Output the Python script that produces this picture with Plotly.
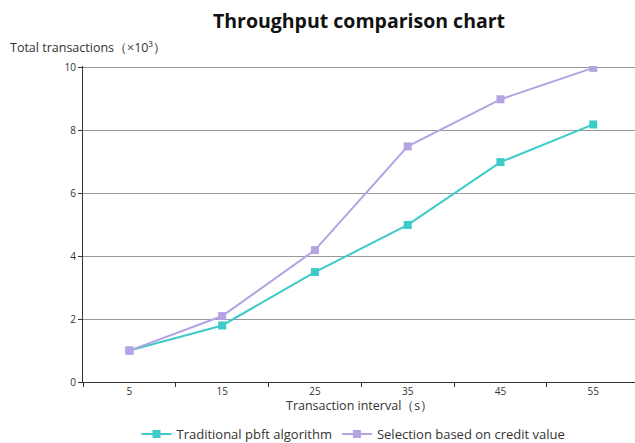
import plotly.graph_objects as go

intervals = ["5", "15", "25", "35", "45", "55"]
pbft_values = [1, 1.8, 3.5, 5, 7, 8.2]
credit_values = [1, 2.1, 4.2, 7.5, 9, 10]
y_ticks = [0, 2, 4, 6, 8, 10]

FONT = "Open Sans, Noto Sans, sans-serif"
TEAL = "#3ccbc8"
PURPLE = "#b4a3e2"

fig = go.Figure()
fig.add_trace(go.Scatter(
    x=intervals, y=pbft_values, name="Traditional pbft algorithm",
    mode="lines+markers",
    line=dict(color=TEAL, width=2),
    marker=dict(symbol="square", size=8, color=TEAL),
))
fig.add_trace(go.Scatter(
    x=intervals, y=credit_values, name="Selection based on credit value",
    mode="lines+markers",
    line=dict(color=PURPLE, width=2),
    marker=dict(symbol="square", size=8, color=PURPLE),
))

fig.update_layout(
    width=635, height=443,
    margin=dict(l=83, r=0, t=66, b=61, autoexpand=False),
    paper_bgcolor="white", plot_bgcolor="white",
    font=dict(family=FONT, size=10, color="#333"),
    title=dict(text="<b>Throughput comparison chart</b>", x=0.5, xanchor="center",
               xref="paper", y=0.953, yanchor="middle",
               font=dict(size=19.5, color="#111")),
    showlegend=True,
    legend=dict(orientation="h", x=0.49, xanchor="center", xref="paper",
                y=0.02, yanchor="middle", yref="container",
                font=dict(size=13, color="#333"), tracegroupgap=0),
    xaxis=dict(
        type="category", tickson="boundaries", ticks="outside", ticklen=4,
        tickcolor="#333", showline=True, linecolor="#333", linewidth=1,
        showgrid=False, tickfont=dict(size=10, color="#333"),
        range=[-0.5, 5.45],
    ),
    yaxis=dict(
        range=[0, 10.06], tickvals=y_ticks, ticks="outside", ticklen=4,
        tickcolor="#333", showline=True, linecolor="#333", linewidth=1,
        showgrid=True, gridcolor="#999", gridwidth=1, zeroline=False,
        tickfont=dict(size=10, color="#333"),
    ),
    annotations=[
        dict(text="Total transactions（×10³）", xref="paper", yref="paper",
             x=-0.135, y=1.057, xanchor="left", yanchor="middle", showarrow=False,
             font=dict(size=12.5, color="#333")),
        dict(text="Transaction interval（s）", xref="paper", yref="paper",
             x=0.5, y=-0.075, xanchor="center", yanchor="middle", showarrow=False,
             font=dict(size=12.5, color="#333")),
    ],
)

fig.write_html("out.html")
